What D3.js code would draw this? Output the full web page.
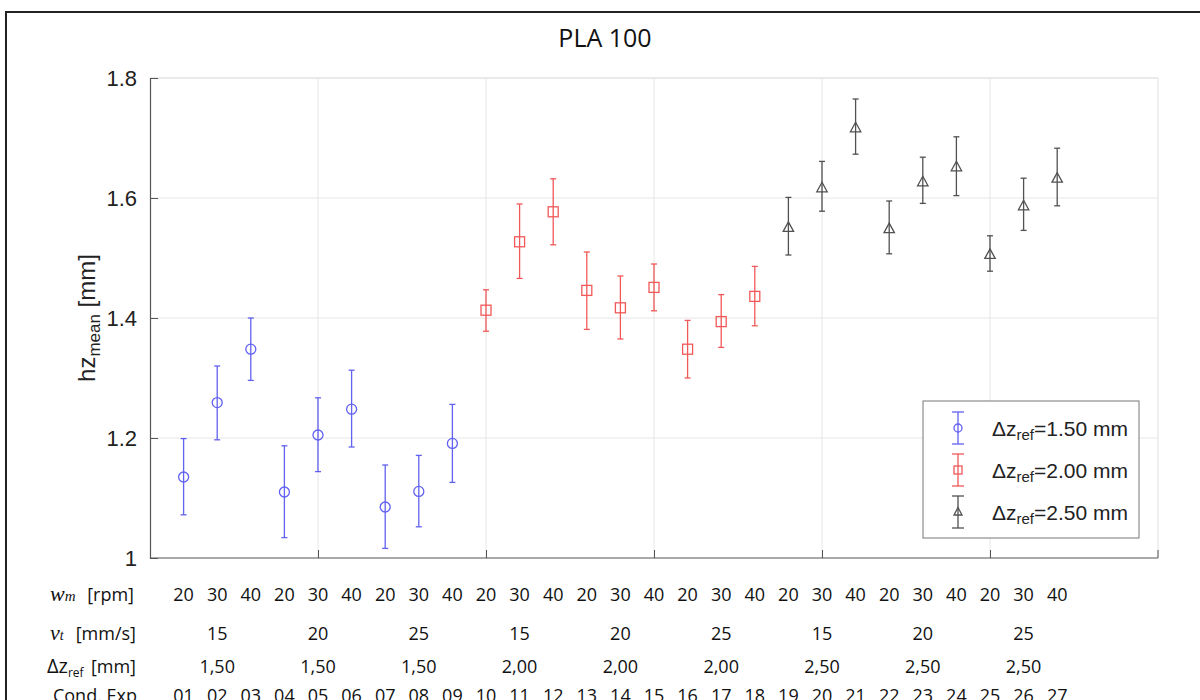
<!DOCTYPE html>
<html>
<head>
<meta charset="utf-8">
<script src="https://cdn.jsdelivr.net/npm/d3@7"></script>
<style>
  body { margin: 0; background: #fff; }
  svg { display: block; }
  .num { font-family: "Liberation Sans", Arial, sans-serif; }
  .cal { font-family: "Open Sans", "Noto Sans", sans-serif; }
</style>
</head>
<body>
<svg id="chart" width="1200" height="700"></svg>
<script>
// experiment conditions
const condExp = ["01","02","03","04","05","06","07","08","09","10","11","12","13","14",
  "15","16","17","18","19","20","21","22","23","24","25","26","27"];
const wmRpm = [20,30,40,20,30,40,20,30,40,20,30,40,20,30,40,20,30,40,20,30,40,20,30,40,20,30,40];
const vtMms = ["15","20","25","15","20","25","15","20","25"];
const dzRef = ["1,50","1,50","1,50","2,00","2,00","2,00","2,50","2,50","2,50"];

// measured hz mean and error bar limits (mm)
const hzMean = [1.135,1.259,1.348,1.110,1.205,1.248,1.085,1.111,1.191,
  1.413,1.527,1.577,1.446,1.417,1.451,1.348,1.394,1.436,
  1.551,1.617,1.717,1.549,1.627,1.652,1.506,1.587,1.633];
const hzLow = [1.072,1.197,1.296,1.034,1.144,1.185,1.016,1.052,1.126,
  1.378,1.466,1.522,1.381,1.365,1.412,1.300,1.351,1.387,
  1.505,1.578,1.673,1.507,1.591,1.604,1.478,1.546,1.587];
const hzHigh = [1.199,1.320,1.400,1.187,1.267,1.313,1.155,1.171,1.256,
  1.447,1.590,1.632,1.510,1.470,1.490,1.396,1.439,1.486,
  1.601,1.661,1.765,1.595,1.668,1.702,1.537,1.633,1.683];

const seriesNames = ["1.50", "2.00", "2.50"];
const seriesColors = ["#4646f0", "#f03c3c", "#333333"];
const seriesMarkers = ["circle", "square", "triangle"];
const yTicks = [1, 1.2, 1.4, 1.6, 1.8];
const xGrid = [5, 10, 15, 20, 25];

const svg = d3.select("#chart");

// outer frame of the figure
svg.append("rect")
  .attr("x", 6).attr("y", 12)
  .attr("width", 1210).attr("height", 720)
  .attr("fill", "none").attr("stroke", "#222").attr("stroke-width", 2);

const pLeft = 150, pRight = 1158, pTop = 78, pBottom = 558;
const x = d3.scaleLinear().domain([0, 30]).range([pLeft, pRight]);
const y = d3.scaleLinear().domain([1, 1.8]).range([pBottom, pTop]);

// grid
svg.append("g").selectAll("line").data(yTicks.slice(1)).join("line")
  .attr("x1", pLeft).attr("x2", pRight)
  .attr("y1", d => y(d)).attr("y2", d => y(d))
  .attr("stroke", "#e6e6e6");
svg.append("g").selectAll("line").data(xGrid).join("line")
  .attr("x1", d => x(d)).attr("x2", d => x(d))
  .attr("y1", pTop).attr("y2", pBottom)
  .attr("stroke", "#e6e6e6");

// light box on top/right
svg.append("path")
  .attr("d", `M${pLeft},${pTop}H${pRight}V${pBottom}`)
  .attr("fill", "none").attr("stroke", "#e0e0e0");

// y axis
const yAxis = d3.axisLeft(y).tickValues(yTicks).tickSize(-8).tickPadding(13)
  .tickFormat(d => d3.format("")(d));
const gy = svg.append("g").attr("transform", `translate(${pLeft},0)`).call(yAxis);
gy.select(".domain").attr("stroke", "#555").attr("stroke-width", 1.2);
gy.selectAll(".tick line").attr("stroke", "#555");
gy.selectAll("text").attr("class", "num").attr("font-size", 22).attr("fill", "#222");

// x axis with no labels
const xAxis = d3.axisBottom(x).tickValues(xGrid).tickSize(-8).tickFormat("");
const gx = svg.append("g").attr("transform", `translate(0,${pBottom})`).call(xAxis);
gx.select(".domain").attr("stroke", "#555").attr("stroke-width", 1.2)
  .attr("d", `M${pLeft},0H${pRight}`);
gx.selectAll(".tick line").attr("stroke", "#555");

// right tick at bottom
svg.append("line").attr("x1", pRight).attr("x2", pRight)
  .attr("y1", pBottom).attr("y2", pBottom - 8).attr("stroke", "#555");

// title
svg.append("text").attr("class", "cal")
  .attr("x", 605).attr("y", 47).attr("text-anchor", "middle")
  .attr("font-size", 25).attr("fill", "#111").text("PLA 100");

// y label
const yl = svg.append("text").attr("class", "num")
  .attr("transform", "translate(95,318) rotate(-90)")
  .attr("text-anchor", "middle").attr("font-size", 24).attr("fill", "#222");
yl.append("tspan").text("hz");
yl.append("tspan").attr("dy", 5).attr("font-size", 17).text("mean");
yl.append("tspan").attr("dy", -5).text(" [mm]");

const points = hzMean.map((v, i) => ({
  i: i + 1, mean: v, low: hzLow[i], high: hzHigh[i], s: Math.floor(i / 9)
}));

function drawMarker(g, type, color) {
  if (type === "circle") {
    g.append("circle").attr("r", 5).attr("fill", "none")
      .attr("stroke", color).attr("stroke-width", 1.3);
  } else if (type === "square") {
    g.append("rect").attr("x", -5).attr("y", -5).attr("width", 10).attr("height", 10)
      .attr("fill", "none").attr("stroke", color).attr("stroke-width", 1.3);
  } else {
    g.append("path").attr("d", "M0,-5.5L5.2,4L-5.2,4Z")
      .attr("fill", "none").attr("stroke", color).attr("stroke-width", 1.3);
  }
}

function drawErr(g, color, y0, y1, cap) {
  g.append("line").attr("x1", 0).attr("x2", 0).attr("y1", y0).attr("y2", y1)
    .attr("stroke", color).attr("stroke-width", 1.3);
  [y0, y1].forEach(v => g.append("line").attr("x1", -cap).attr("x2", cap)
    .attr("y1", v).attr("y2", v).attr("stroke", color).attr("stroke-width", 1.3));
}

const pts = svg.append("g").selectAll("g").data(points).join("g")
  .attr("transform", d => `translate(${x(d.i)},${y(d.mean)})`)
  .attr("opacity", 0.85);
pts.each(function (d) {
  const g = d3.select(this);
  drawErr(g, seriesColors[d.s], y(d.high) - y(d.mean), y(d.low) - y(d.mean), 3);
  drawMarker(g, seriesMarkers[d.s], seriesColors[d.s]);
});

// legend
const lg = svg.append("g");
lg.append("rect").attr("x", 923).attr("y", 401).attr("width", 216).attr("height", 137)
  .attr("fill", "#fff").attr("stroke", "#777");
seriesNames.forEach((n, k) => {
  const cy = 428 + k * 42;
  const g = lg.append("g").attr("transform", `translate(958,${cy})`).attr("opacity", 0.85);
  drawErr(g, seriesColors[k], -16, 16, 6);
  drawMarker(g, seriesMarkers[k], seriesColors[k]);
  g.select("circle").attr("r", 4);
  g.select("rect").attr("x", -4).attr("y", -4).attr("width", 8).attr("height", 8);
  g.select("path").attr("d", "M0,-4.5L4,3L-4,3Z");
  const t = lg.append("text").attr("class", "num").attr("x", 992).attr("y", cy + 8)
    .attr("font-size", 21).attr("fill", "#222");
  t.append("tspan").text("Δz");
  t.append("tspan").attr("dy", 4).attr("font-size", 15).text("ref");
  t.append("tspan").attr("dy", -4).text("=" + n + " mm");
});

// condition table under the axis
const tbl = svg.append("g").attr("class", "cal").attr("font-size", 18).attr("fill", "#111");
const rowY = [601, 640, 673, 702];
const serif = "'Liberation Serif', 'DejaVu Serif', serif";

const r0 = tbl.append("text").attr("x", 50).attr("y", rowY[0]);
r0.append("tspan").attr("font-family", serif).attr("font-style", "italic")
  .attr("font-size", 22).text("w");
r0.append("tspan").attr("font-family", serif).attr("font-style", "italic")
  .attr("font-size", 15).text("m");
tbl.append("text").attr("x", 134).attr("y", rowY[0]).attr("text-anchor", "end").text("[rpm]");

const r1 = tbl.append("text").attr("x", 50).attr("y", rowY[1]);
r1.append("tspan").attr("font-family", serif).attr("font-style", "italic")
  .attr("font-size", 22).text("v");
r1.append("tspan").attr("font-family", serif).attr("font-style", "italic")
  .attr("font-size", 14).text("t");
tbl.append("text").attr("x", 136).attr("y", rowY[1]).attr("text-anchor", "end").text("[mm/s]");

const r2 = tbl.append("text").attr("x", 47).attr("y", rowY[2]);
r2.append("tspan").attr("font-size", 20).text("Δz");
r2.append("tspan").attr("dy", 4).attr("font-size", 12).text("ref");
tbl.append("text").attr("x", 136).attr("y", rowY[2]).attr("text-anchor", "end").text("[mm]");

tbl.append("text").attr("x", 137).attr("y", rowY[3]).attr("text-anchor", "end").text("Cond. Exp");

tbl.append("g").selectAll("text").data(wmRpm).join("text")
  .attr("x", (d, i) => x(i + 1)).attr("y", rowY[0]).attr("text-anchor", "middle")
  .text(d => d);
tbl.append("g").selectAll("text").data(vtMms).join("text")
  .attr("x", (d, i) => x(i * 3 + 2)).attr("y", rowY[1]).attr("text-anchor", "middle")
  .text(d => d);
tbl.append("g").selectAll("text").data(dzRef).join("text")
  .attr("x", (d, i) => x(i * 3 + 2)).attr("y", rowY[2]).attr("text-anchor", "middle")
  .text(d => d);
tbl.append("g").selectAll("text").data(condExp).join("text")
  .attr("x", (d, i) => x(i + 1)).attr("y", rowY[3]).attr("text-anchor", "middle")
  .text(d => d);
</script>
</body>
</html>
